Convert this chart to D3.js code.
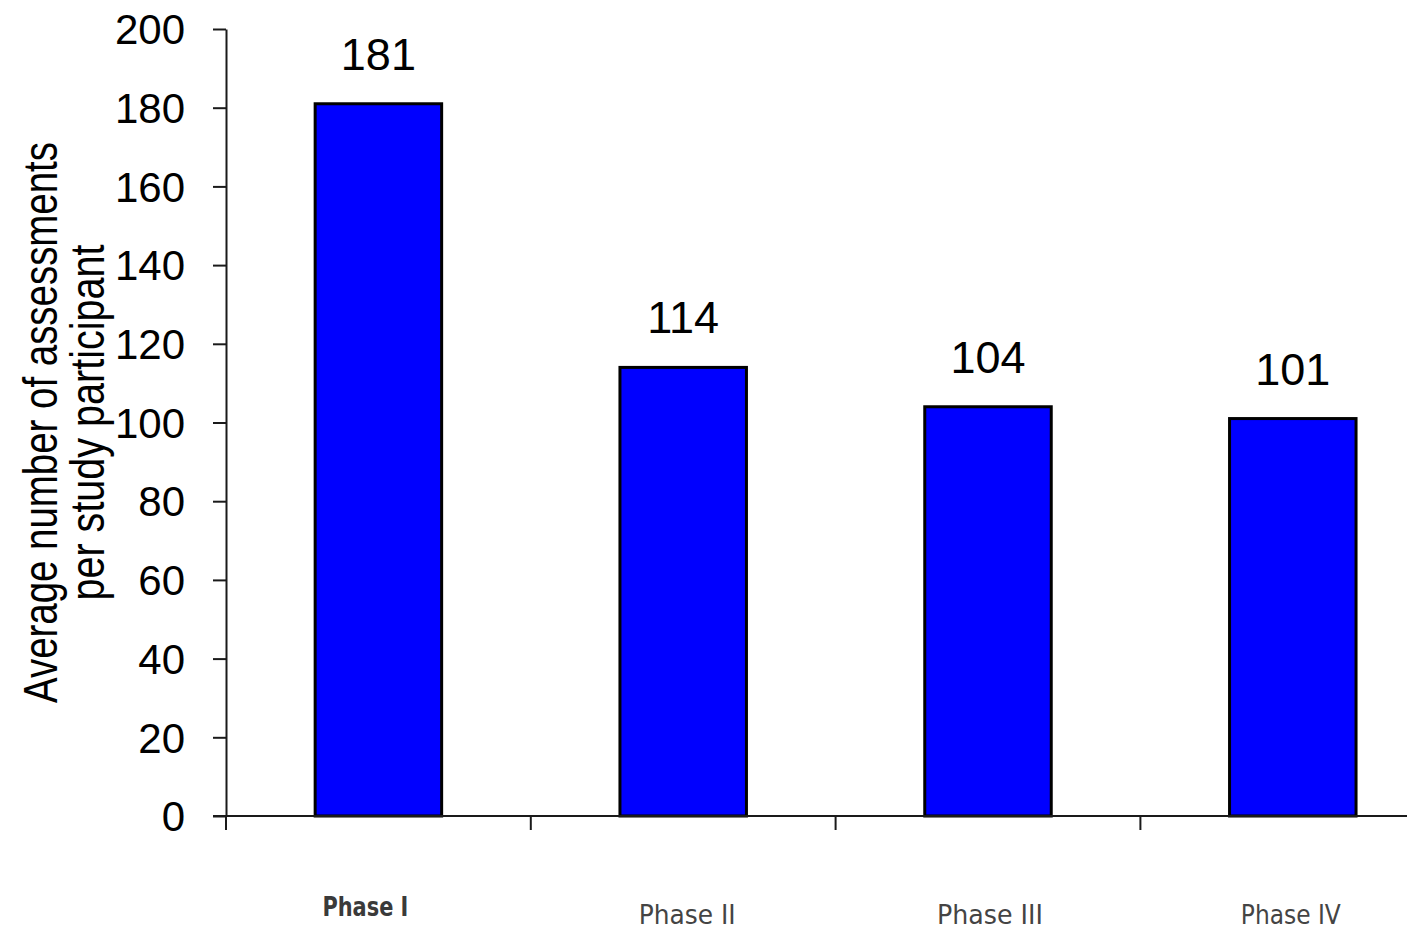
<!DOCTYPE html>
<html>
<head>
<meta charset="utf-8">
<script src="https://cdn.jsdelivr.net/npm/d3@7"></script>
<style>
  html, body { margin: 0; padding: 0; background: #ffffff; overflow: hidden; }
  svg { display: block; }
</style>
</head>
<body>
<svg id="chart" width="1407" height="930"></svg>
<script>
// ---- data ----
const categories = ["Phase I", "Phase II", "Phase III", "Phase IV"];
const values = [181, 114, 104, 101];
const yTicks = [0, 20, 40, 60, 80, 100, 120, 140, 160, 180, 200];
const titleLines = ["Average number of assessments", "per study participant"];

// ---- layout ----
const W = 1407, H = 930;
const svg = d3.select("#chart");

const y = d3.scaleLinear().domain([0, 200]).range([816, 29]);
const x = d3.scaleBand().domain(categories).range([226, 1445.2])
  .paddingInner(0.585).paddingOuter(0.2925);

const axisColor = "#1a1a1a";

// y axis
const yAxis = d3.axisLeft(y).tickValues(yTicks).tickSize(13).tickSizeOuter(0).tickPadding(28);
const gy = svg.append("g").attr("transform", "translate(226,0)").call(yAxis);
gy.select(".domain").attr("stroke", axisColor).attr("stroke-width", 2);
gy.selectAll(".tick line").attr("stroke", axisColor).attr("stroke-width", 2);
gy.selectAll(".tick text")
  .attr("font-family", "'Liberation Sans', Arial, sans-serif")
  .attr("font-size", 42)
  .attr("fill", "#000")
  .attr("dy", "0.35em");

// bars
svg.append("g").selectAll("rect")
  .data(values)
  .join("rect")
  .attr("x", (d, i) => x(categories[i]))
  .attr("y", d => y(d))
  .attr("width", x.bandwidth())
  .attr("height", d => y(0) - y(d))
  .attr("fill", "#0000ff")
  .attr("stroke", "#000")
  .attr("stroke-width", 3);

// x axis line and boundary ticks
const x0 = x.range()[0];
const step = x.step();
svg.append("line")
  .attr("x1", 213).attr("x2", W + 10)
  .attr("y1", y(0)).attr("y2", y(0))
  .attr("stroke", axisColor).attr("stroke-width", 2);
svg.append("g").selectAll("line")
  .data(d3.range(categories.length + 1))
  .join("line")
  .attr("x1", i => x0 + i * step).attr("x2", i => x0 + i * step)
  .attr("y1", y(0)).attr("y2", y(0) + 14)
  .attr("stroke", axisColor).attr("stroke-width", 2);

// value labels
svg.append("g").selectAll("text")
  .data(values)
  .join("text")
  .attr("x", (d, i) => x(categories[i]) + x.bandwidth() / 2)
  .attr("y", d => y(d) - 34)
  .attr("text-anchor", "middle")
  .attr("font-family", "'Liberation Sans', Arial, sans-serif")
  .attr("font-size", 45)
  .attr("fill", "#000")
  .text(d => d);

// category labels (style tweaks per label, as in the original rendering)
const catLabelDx = [-13, 4, 2, -2];
const catLabelLen = [86, 97, 106, 100];
svg.append("g").selectAll("text")
  .data(categories)
  .join("text")
  .attr("x", d => x(d) + x.bandwidth() / 2)
  .attr("y", (d, i) => i === 0 ? 916 : 924)
  .attr("dx", (d, i) => catLabelDx[i])
  .attr("text-anchor", "middle")
  .attr("font-family", "'DejaVu Sans', Verdana, sans-serif")
  .attr("font-size", (d, i) => i === 0 ? 26 : 27)
  .attr("font-weight", (d, i) => i === 0 ? "bold" : "normal")
  .attr("fill", (d, i) => i === 0 ? "#3a3a3a" : "#444")
  .attr("textLength", (d, i) => catLabelLen[i])
  .attr("lengthAdjust", "spacingAndGlyphs")
  .text(d => d);

// y axis title (two rotated lines)
const midY = (y(0) + y(200)) / 2;
const title = svg.append("g").attr("transform", `translate(57,${midY}) rotate(-90)`);
const titleLens = [561, 356];
title.selectAll("text")
  .data(titleLines)
  .join("text")
  .attr("x", 0)
  .attr("y", (d, i) => i * 47)
  .attr("text-anchor", "middle")
  .attr("font-family", "'Liberation Sans', Arial, sans-serif")
  .attr("font-size", 48)
  .attr("fill", "#000")
  .attr("textLength", (d, i) => titleLens[i])
  .attr("lengthAdjust", "spacingAndGlyphs")
  .text(d => d);
</script>
</body>
</html>
